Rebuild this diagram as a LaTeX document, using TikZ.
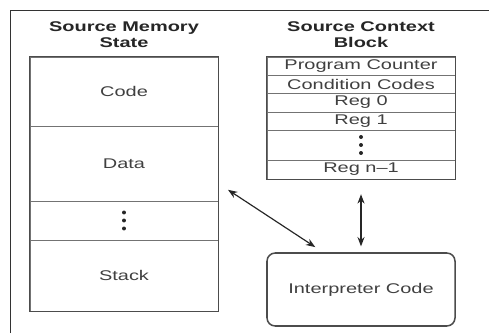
\documentclass[tikz,border=0pt]{standalone}
\usepackage{fontspec}
\setmainfont[FakeStretch=1.42]{Liberation Sans}
\usetikzlibrary{calc,fit,arrows.meta}

\tikzset{
	cell/.style={draw=black!55, line width=0.7pt, minimum width=5.64cm, inner sep=0pt,
		text=black!75, font=\fontsize{12}{14}\selectfont},
	frame/.style={draw=black!70, line width=1.3pt, inner sep=0pt},
	head/.style={align=center, text=black!85, font=\fontsize{12}{13.7}\selectfont\bfseries},
	dbl/.style={{Stealth[length=8pt,width=6pt]}-{Stealth[length=8pt,width=6pt]}, line width=1pt, black!85}
}

\begin{document}
\begin{tikzpicture}[x=0.03cm,y=-0.03cm]
	\fill[white] (0,0) rectangle (489,333);
	\useasboundingbox (0,0) rectangle (489,333);
	\draw[black!80, line width=0.8pt] (10,333) -- (10,10) -- (489,10);
	% memory side
	\node[head] (memtitle) at (124,35) {Source Memory\\State};
	\node[cell, minimum height=2.07cm] (code) at (124,91.5) {Code};
	\node[cell, minimum height=2.25cm] (data) at (124,163.5) {Data};
	\node[cell, minimum height=1.17cm] (more) at (124,220.5) {};
	\node[cell, minimum height=2.13cm] (stack) at (124,275.5) {Stack};
	\node[frame, fit=(code)(stack)] (mem) {};
	\fill[black!85] (more.center) ++(0,-8) circle (1.7pt) ++(0,8) circle (1.7pt) ++(0,8) circle (1.7pt);
	% context side
	\node[head] (ctxtitle) at (361,35) {Source Context\\Block};
	\node[cell, minimum height=0.54cm] (pc) at (361,66) {Program Counter};
	\node[cell, minimum height=0.54cm] (cc) at (361,84) {Condition Codes};
	\node[cell, minimum height=0.57cm] (r0) at (361,102.5) {Reg 0};
	\node[cell, minimum height=0.54cm] (r1) at (361,121) {Reg 1};
	\node[cell, minimum height=0.90cm] (rdots) at (361,145) {};
	\node[cell, minimum height=0.57cm] (rn) at (361,169.5) {Reg n--1};
	\node[frame, fit=(pc)(rn)] (ctx) {};
	\fill[black!85] (rdots.center) ++(0,-8) circle (1.7pt) ++(0,8) circle (1.7pt) ++(0,8) circle (1.7pt);
	% interpreter
	\node[frame, rounded corners=7pt, minimum width=5.64cm, minimum height=2.19cm,
		text=black!75, font=\fontsize{12}{14}\selectfont] (interp) at (361,289.5) {Interpreter Code};
	\draw[dbl, shorten <=9pt, shorten >=8pt] (mem.east) -- ($(interp.north west)!0.3!(interp.north east)$);
	\draw[dbl, shorten <=12pt, shorten >=5pt] (ctx.south) -- (interp.north);
\end{tikzpicture}
\end{document}
